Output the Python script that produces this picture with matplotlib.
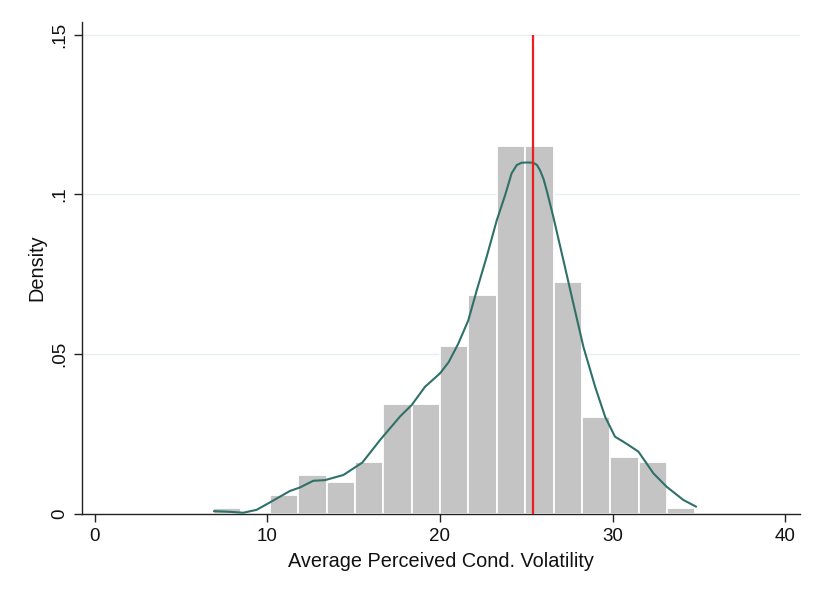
import numpy as np
import matplotlib
matplotlib.use("Agg")
import matplotlib.pyplot as plt

plt.rcParams['font.family'] = ['Liberation Sans', 'DejaVu Sans']

# Histogram: 17 equal-width bins
bin_start = 6.85
bin_width = 1.644
densities = [0.0019, 0.0, 0.0060, 0.0121, 0.0101, 0.0162, 0.0344, 0.0344,
             0.0525, 0.0686, 0.1151, 0.1151, 0.0726, 0.0302, 0.0177, 0.0162, 0.0019]

# Kernel density estimate
kde_x = [6.9, 7.8, 8.6, 9.37, 10.2, 11.3, 11.88, 12.66, 13.33, 14.4, 15.5, 16.52,
         17.1, 17.7, 18.36, 19.13, 20.0, 20.5, 21.06, 21.64, 22.13, 22.7, 23.29,
         23.77, 24.15, 24.45, 24.73, 25.05, 25.41, 25.62, 25.8, 26.0, 26.18, 26.57,
         27.15, 27.73, 28.31, 28.99, 29.57, 30.14, 30.63, 31.0, 31.5, 32.37, 33.14,
         34.1, 34.84]
kde_y = [0.0009, 0.0007, 0.0004, 0.0013, 0.0038, 0.0072, 0.0083, 0.0104, 0.0106,
         0.0122, 0.0161, 0.0231, 0.0268, 0.0306, 0.0341, 0.0398, 0.0440, 0.0475,
         0.0533, 0.0606, 0.0700, 0.0804, 0.0919, 0.0997, 0.1066, 0.1092, 0.1099,
         0.1100, 0.1099, 0.1092, 0.1075, 0.1048, 0.1013, 0.0929, 0.0794, 0.0658,
         0.0523, 0.0398, 0.0304, 0.0242, 0.0226, 0.0213, 0.0195, 0.0127, 0.0085,
         0.0044, 0.0023]

mean_value = 25.4

x_ticks = [0, 10, 20, 30, 40]
y_ticks = [0, 0.05, 0.1, 0.15]
y_tick_labels = ['0', '.05', '.1', '.15']

fig = plt.figure(figsize=(8.19, 5.93), dpi=100)
ax = fig.add_axes([0.100, 0.1332, 0.877, 0.830])

lefts = bin_start + bin_width * np.arange(len(densities))
ax.bar(lefts, densities, width=bin_width, align='edge', color='#c4c4c4',
       edgecolor='white', linewidth=1.3, zorder=2)

ax.plot(kde_x, kde_y, color='#2f7168', linewidth=1.5, zorder=3,
        solid_joinstyle='round', solid_capstyle='round')
ax.vlines(mean_value, 0, 0.15, color='#f21d1d', linewidth=1.6, zorder=4)

for yv in y_ticks[1:]:
    ax.axhline(yv, color='#e6eef0', linewidth=1.0, zorder=1)

ax.set_xlim(-0.75, 40.87)
ax.set_ylim(0, 0.154)
ax.set_xticks(x_ticks)
ax.set_yticks(y_ticks)
ax.set_yticklabels(y_tick_labels, rotation=90, va='center')
ax.tick_params(axis='both', direction='out', length=6, width=1.0,
               labelsize=13.5, color='#222222', labelcolor='#111111', pad=4)

for side in ['top', 'right']:
    ax.spines[side].set_visible(False)
for side in ['left', 'bottom']:
    ax.spines[side].set_color('#222222')
    ax.spines[side].set_linewidth(1.0)

ax.set_xlabel('Average Perceived Cond. Volatility', fontsize=14.3, color='#111111', labelpad=5)
ax.set_ylabel('Density', fontsize=14.3, color='#111111', labelpad=3.5)

fig.savefig('out.png', dpi=100, facecolor='white')
